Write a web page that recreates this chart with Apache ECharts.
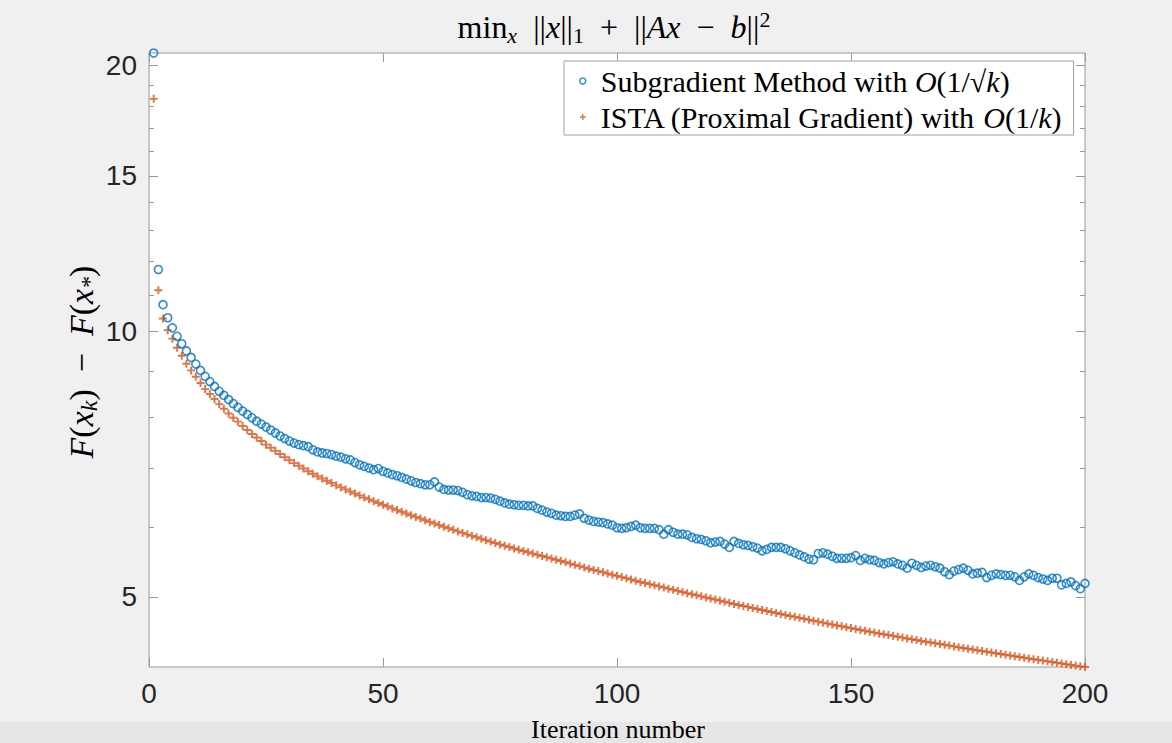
<!DOCTYPE html>
<html>
<head>
<meta charset="utf-8">
<script src="https://cdn.jsdelivr.net/npm/echarts@6/dist/echarts.min.js"></script>
<style>
html,body{margin:0;padding:0;background:#f0f0f0;}
#chart{width:1172px;height:743px;}
</style>
</head>
<body>
<div id="chart"></div>
<script>
// ---------------- data ----------------
const seriesNames = [
  'Subgradient Method with O(1/√k)',
  'ISTA (Proximal Gradient) with O(1/k)'
];
const subgradient = [
  20.67, 11.75, 10.72, 10.36, 10.09, 9.87, 9.68, 9.50, 9.34, 9.18,
  9.03, 8.89, 8.77, 8.66, 8.55, 8.46, 8.37, 8.28, 8.20, 8.12,
  8.05, 7.98, 7.91, 7.85, 7.79, 7.73, 7.67, 7.61, 7.56, 7.51,
  7.47, 7.44, 7.42, 7.40, 7.34, 7.30, 7.28, 7.27, 7.25, 7.22,
  7.20, 7.17, 7.15, 7.10, 7.06, 7.03, 7.00, 6.97, 6.99, 6.94,
  6.91, 6.88, 6.86, 6.83, 6.80, 6.77, 6.74, 6.72, 6.70, 6.70,
  6.75, 6.66, 6.62, 6.61, 6.61, 6.60, 6.57, 6.53, 6.51, 6.50,
  6.48, 6.48, 6.47, 6.45, 6.42, 6.39, 6.37, 6.36, 6.35, 6.35,
  6.34, 6.34, 6.30, 6.27, 6.24, 6.22, 6.19, 6.18, 6.17, 6.17,
  6.19, 6.21, 6.14, 6.11, 6.09, 6.08, 6.07, 6.05, 6.03, 5.99,
  5.98, 5.99, 6.01, 6.03, 5.99, 5.98, 5.98, 5.98, 5.96, 5.89,
  5.96, 5.92, 5.89, 5.89, 5.88, 5.84, 5.82, 5.81, 5.79, 5.76,
  5.77, 5.78, 5.74, 5.69, 5.78, 5.75, 5.73, 5.72, 5.70, 5.68,
  5.64, 5.66, 5.69, 5.69, 5.69, 5.67, 5.64, 5.61, 5.58, 5.55,
  5.52, 5.51, 5.60, 5.61, 5.59, 5.56, 5.53, 5.53, 5.53, 5.54,
  5.57, 5.50, 5.53, 5.51, 5.50, 5.47, 5.45, 5.47, 5.48, 5.45,
  5.43, 5.39, 5.46, 5.43, 5.40, 5.42, 5.43, 5.41, 5.39, 5.34,
  5.30, 5.35, 5.37, 5.39, 5.36, 5.31, 5.32, 5.33, 5.26, 5.29,
  5.31, 5.30, 5.29, 5.29, 5.27, 5.22, 5.27, 5.31, 5.29, 5.26,
  5.24, 5.22, 5.25, 5.25, 5.16, 5.18, 5.20, 5.15, 5.11, 5.18
];
const ista = [
  18.34, 11.13, 10.34, 10.03, 9.81, 9.58, 9.38, 9.19, 9.03, 8.88,
  8.74, 8.60, 8.49, 8.38, 8.27, 8.17, 8.07, 7.98, 7.90, 7.81,
  7.73, 7.65, 7.58, 7.51, 7.44, 7.38, 7.32, 7.26, 7.20, 7.145,
  7.09, 7.04, 6.99, 6.94, 6.895, 6.85, 6.81, 6.77, 6.73, 6.69,
  6.655, 6.62, 6.585, 6.55, 6.515, 6.48, 6.45, 6.42, 6.39, 6.36,
  6.33, 6.30, 6.272, 6.244, 6.216, 6.189, 6.162, 6.135, 6.108, 6.082,
  6.056, 6.031, 6.006, 5.981, 5.957, 5.933, 5.910, 5.887, 5.864, 5.842,
  5.820, 5.798, 5.777, 5.756, 5.735, 5.715, 5.695, 5.675, 5.656, 5.637,
  5.618, 5.599, 5.581, 5.563, 5.545, 5.527, 5.509, 5.491, 5.473, 5.455,
  5.437, 5.419, 5.401, 5.383, 5.365, 5.349, 5.332, 5.316, 5.299, 5.283,
  5.266, 5.250, 5.233, 5.217, 5.200, 5.185, 5.170, 5.155, 5.140, 5.125,
  5.110, 5.095, 5.080, 5.065, 5.050, 5.036, 5.022, 5.008, 4.994, 4.980,
  4.966, 4.952, 4.938, 4.924, 4.910, 4.897, 4.884, 4.872, 4.859, 4.846,
  4.833, 4.820, 4.808, 4.795, 4.782, 4.770, 4.758, 4.747, 4.735, 4.723,
  4.711, 4.699, 4.688, 4.676, 4.664, 4.653, 4.642, 4.632, 4.621, 4.610,
  4.599, 4.588, 4.578, 4.567, 4.556, 4.546, 4.536, 4.527, 4.517, 4.507,
  4.497, 4.487, 4.478, 4.468, 4.458, 4.449, 4.440, 4.431, 4.422, 4.413,
  4.404, 4.395, 4.386, 4.377, 4.368, 4.360, 4.351, 4.343, 4.334, 4.326,
  4.317, 4.309, 4.300, 4.292, 4.283, 4.275, 4.267, 4.259, 4.251, 4.243,
  4.235, 4.227, 4.219, 4.211, 4.203, 4.195, 4.188, 4.180, 4.172, 4.165
];
const iterations = subgradient.map((_, i) => i + 1);
const xTickValues = [0, 50, 100, 150, 200];
const yMajorTicks = [5, 10, 15, 20];
const yMinorTicks = [6, 7, 8, 9, 11, 12, 13, 14, 16, 17, 18, 19];
const yRange = [4.165, 20.67];
const xRange = [0, 200];

// ---------------- styling ----------------
const SERIF = "'Liberation Serif', 'DejaVu Serif', serif";
const SANS = "'Liberation Sans', Arial, sans-serif";
const BLUE = '#0072BD';
const RED = '#D95319';
const AXIS = '#9a9a9a';
const PLUS = 'path://M-1.2,-5H1.2V-1.2H5V1.2H1.2V5H-1.2V1.2H-5V-1.2H-1.2Z';

function mathRich(size, lh) {
  const small = Math.round(size * 0.7);
  return {
    r: {fontFamily: SERIF, fontSize: size, lineHeight: lh, color: '#000'},
    i: {fontFamily: SERIF, fontStyle: 'italic', fontSize: size, lineHeight: lh, color: '#000'},
    si: {fontFamily: SERIF, fontStyle: 'italic', fontSize: small, lineHeight: small + 2, verticalAlign: 'bottom', color: '#000'},
    sr: {fontFamily: SERIF, fontSize: small, lineHeight: small + 2, verticalAlign: 'bottom', color: '#000'},
    pr: {fontFamily: SERIF, fontSize: small, lineHeight: small + 2, verticalAlign: 'top', color: '#000'}
  };
}

function yAxisBase(extra) {
  return Object.assign({
    type: 'log',
    min: yRange[0],
    max: yRange[1],
    gridIndex: 0,
    axisLine: {show: false},
    splitLine: {show: false},
    minorTick: {show: false},
    minorSplitLine: {show: false}
  }, extra);
}

const chart = echarts.init(document.getElementById('chart'), null, {renderer: 'svg'});

const option = {
  backgroundColor: '#f0f0f0',
  animation: false,
  grid: {
    left: 149, right: 87, top: 53, bottom: 76,
    show: true,
    backgroundColor: '#ffffff',
    borderColor: AXIS,
    borderWidth: 1
  },
  graphic: [
    {
      type: 'rect', z: -1, silent: true,
      shape: {x: 0, y: 722, width: 1172, height: 21},
      style: {fill: '#e6e6e6'}
    },
    {
      type: 'text', x: 614, y: 27,
      style: {
        text: '{r|min}{si|x}{r|  ||}{i|x}{r|||}{sr|1}{r|  +  ||}{i|Ax}{r|  −  }{i|b}{r|||}{pr|2}',
        rich: mathRich(32, 38),
        align: 'center', verticalAlign: 'middle'
      }
    },
    {
      type: 'text', x: 618, y: 729,
      style: {
        text: 'Iteration number',
        font: '26px ' + SERIF,
        fill: '#000',
        align: 'center', verticalAlign: 'middle'
      }
    },
    {
      type: 'text', x: 81, y: 362, rotation: Math.PI / 2,
      style: {
        text: '{i|F}{r|(}{i|x}{si|k}{r|)  −  }{i|F}{r|(}{i|x}{si|*}{r|)}',
        rich: mathRich(34, 40),
        align: 'center', verticalAlign: 'middle'
      }
    }
  ],
  legend: {
    left: 564, top: 61,
    orient: 'vertical',
    backgroundColor: '#ffffff',
    borderColor: '#a0a0a0',
    borderWidth: 1,
    borderRadius: 0,
    padding: [2, 12, 0, 15],
    itemGap: 0,
    itemWidth: 26,
    itemHeight: 6,
    symbolKeepAspect: true,
    selectedMode: false,
    data: [
      {name: seriesNames[0], icon: 'circle', itemStyle: {color: 'transparent', borderColor: BLUE, borderWidth: 1.5}},
      {name: seriesNames[1], icon: PLUS, itemStyle: {color: RED, borderWidth: 0}}
    ],
    formatter: function (name) {
      if (name === seriesNames[0]) {
        return '{r|Subgradient Method with }{i|O}{r|(1/√}{i|k}{r|)}';
      }
      return '{r|ISTA (Proximal Gradient) with }{i|O}{r|(1/}{i|k}{r|)}';
    },
    textStyle: {lineHeight: 36, fontSize: 30, fontFamily: SERIF, rich: mathRich(30, 36)}
  },
  xAxis: [
    {
      type: 'value', min: xRange[0], max: xRange[1], interval: 50,
      position: 'bottom',
      axisLine: {show: false},
      splitLine: {show: false},
      axisTick: {show: true, inside: true, length: 9, lineStyle: {color: AXIS}},
      axisLabel: {
        show: true, margin: 12, color: '#262626',
        fontFamily: SANS, fontSize: 28,
        customValues: xTickValues
      }
    },
    {
      type: 'value', min: xRange[0], max: xRange[1], interval: 50,
      position: 'top',
      axisLine: {show: false},
      splitLine: {show: false},
      axisTick: {show: true, inside: true, length: 9, lineStyle: {color: AXIS}},
      axisLabel: {show: false}
    }
  ],
  yAxis: [
    yAxisBase({
      position: 'left',
      axisTick: {show: true, inside: true, length: 9, lineStyle: {color: AXIS}, customValues: yMajorTicks},
      axisLabel: {
        show: true, margin: 12, color: '#262626',
        fontFamily: SANS, fontSize: 28,
        customValues: yMajorTicks,
        formatter: v => String(Math.round(v))
      }
    }),
    yAxisBase({
      position: 'left',
      axisTick: {show: true, inside: true, length: 5, lineStyle: {color: AXIS}, customValues: yMinorTicks},
      axisLabel: {show: false}
    }),
    yAxisBase({
      position: 'right',
      axisTick: {show: true, inside: true, length: 9, lineStyle: {color: AXIS}, customValues: yMajorTicks},
      axisLabel: {show: false}
    }),
    yAxisBase({
      position: 'right',
      axisTick: {show: true, inside: true, length: 5, lineStyle: {color: AXIS}, customValues: yMinorTicks},
      axisLabel: {show: false}
    })
  ],
  series: [
    {
      name: seriesNames[0],
      type: 'scatter',
      xAxisIndex: 0, yAxisIndex: 0,
      symbol: 'circle',
      symbolSize: 8,
      itemStyle: {color: 'transparent', borderColor: BLUE, borderWidth: 1.6},
      data: iterations.map((k, i) => [k, subgradient[i]]),
      z: 3
    },
    {
      name: seriesNames[1],
      type: 'scatter',
      xAxisIndex: 0, yAxisIndex: 0,
      symbol: PLUS,
      symbolSize: 8,
      itemStyle: {color: RED},
      data: iterations.map((k, i) => [k, ista[i]]),
      z: 2
    }
  ]
};
chart.setOption(option);
</script>
</body>
</html>
